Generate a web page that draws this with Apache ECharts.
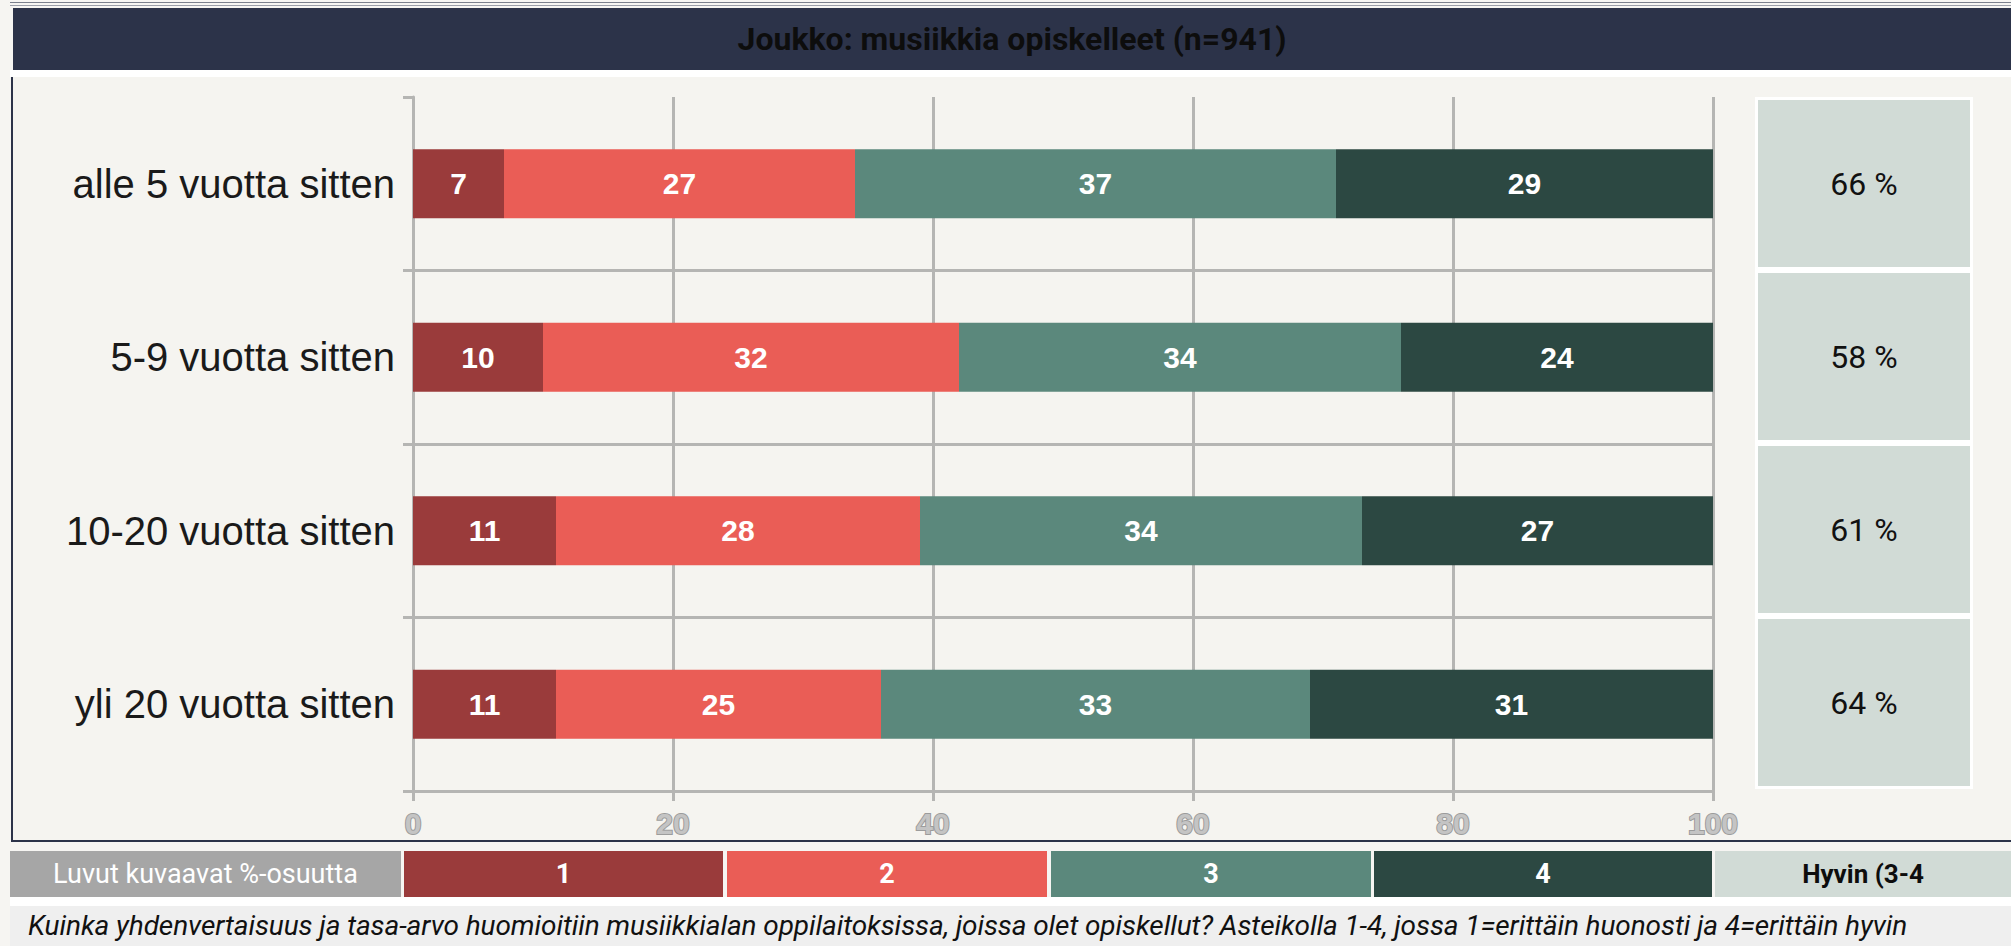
<!DOCTYPE html>
<html>
<head>
<meta charset="utf-8">
<script src="https://cdn.jsdelivr.net/npm/echarts@6/dist/echarts.min.js"></script>
<style>
  html, body { margin: 0; padding: 0; }
  body { width: 2011px; height: 946px; position: relative; overflow: hidden; background: #f6f5f2; font-family: Roboto, "Noto Sans", sans-serif; }
  .abs { position: absolute; box-sizing: border-box; }
  .cell { display: flex; align-items: center; justify-content: center; white-space: nowrap; overflow: hidden; }
  #chart { position: absolute; left: 0; top: 0; width: 2011px; height: 946px; }
</style>
</head>
<body>
<div class="abs" style="left:10px;top:2px;width:2001px;height:1px;background:#7a7f8c;"></div>
<div class="abs" style="left:10px;top:5px;width:2001px;height:1px;background:#9a9ea8;"></div>
<div class="abs cell" id="title" style="left:13px;top:8px;width:1998px;height:62px;background:#2c3349;color:#0d0d0d;font-weight:bold;font-size:32px;"></div>
<div class="abs" style="left:10px;top:70px;width:2001px;height:7px;background:#ffffff;"></div>
<div class="abs" style="left:11px;top:77px;width:2000px;height:765px;background:#f5f4f0;border-left:2px solid #2c3349;border-bottom:2px solid #2c3349;"></div>
<div id="legend"></div>
<div class="abs" style="left:10px;top:897px;width:2001px;height:9px;background:#ffffff;"></div>
<div class="abs" id="footer" style="left:10px;top:906px;width:2001px;height:40px;background:#efefef;color:#111;font-style:italic;font-size:28px;letter-spacing:-0.1px;line-height:40px;padding-left:18px;white-space:nowrap;"></div>
<div id="chart"></div>
<script>
// ---- data ----
const titleText = 'Joukko: musiikkia opiskelleet (n=941)';
const categories = ['alle 5 vuotta sitten', '5-9 vuotta sitten', '10-20 vuotta sitten', 'yli 20 vuotta sitten'];
const seriesNames = ['1', '2', '3', '4'];
const values1 = [7, 10, 11, 11];
const values2 = [27, 32, 28, 25];
const values3 = [37, 34, 34, 33];
const values4 = [29, 24, 27, 31];
const hyvin = [66, 58, 61, 64];
const xTickMin = 0, xTickMax = 100, xTickStep = 20;
const legendLead = 'Luvut kuvaavat %-osuutta';
const legendTail = 'Hyvin (3-4';
const footerText = 'Kuinka yhdenvertaisuus ja tasa-arvo huomioitiin musiikkialan oppilaitoksissa, joissa olet opiskellut? Asteikolla 1-4, jossa 1=erittäin huonosti ja 4=erittäin hyvin';

// ---- styles ----
const colors = ['#9a3b3b', '#ea5d56', '#5b887c', '#2c4842'];
const gridCol = '#b5b5b3';

document.getElementById('title').textContent = titleText;
document.getElementById('footer').textContent = footerText;

// legend row
const legendCells = [
  { text: legendLead, x: 10, w: 391, bg: '#a6a6a6', color: '#ffffff', weight: 400, size: 27 },
  { text: seriesNames[0], x: 404, w: 319, bg: colors[0], color: '#ffffff', weight: 'bold', size: 27 },
  { text: seriesNames[1], x: 727, w: 320, bg: colors[1], color: '#ffffff', weight: 'bold', size: 27 },
  { text: seriesNames[2], x: 1051, w: 320, bg: colors[2], color: '#ffffff', weight: 'bold', size: 27 },
  { text: seriesNames[3], x: 1374, w: 338, bg: colors[3], color: '#ffffff', weight: 'bold', size: 27 },
  { text: legendTail, x: 1715, w: 296, bg: '#d1dbd6', color: '#0d0d0d', weight: 'bold', size: 26 }
];
const lg = document.getElementById('legend');
legendCells.forEach(c => {
  const d = document.createElement('div');
  d.className = 'abs cell';
  d.style.cssText = `left:${c.x}px;top:851px;width:${c.w}px;height:46px;background:${c.bg};color:${c.color};font-weight:${c.weight};font-size:${c.size}px;`;
  d.textContent = c.text;
  lg.appendChild(d);
});

const totals = categories.map((c, i) => values1[i] + values2[i] + values3[i] + values4[i]);
const allValues = [values1, values2, values3, values4];

const chart = echarts.init(document.getElementById('chart'), null, { renderer: 'svg' });
const option = {
  backgroundColor: 'transparent',
  animation: false,
  grid: [
    { left: 413, width: 1300, top: 97, height: 694 },
    { left: 1755, width: 218, top: 97, height: 692 }
  ],
  xAxis: [
    {
      type: 'value', gridIndex: 0, min: xTickMin, max: xTickMax, interval: xTickStep,
      axisLine: { show: true, lineStyle: { color: gridCol, width: 3 } },
      axisTick: { show: true, length: 10, lineStyle: { color: gridCol, width: 3 } },
      splitLine: { show: true, lineStyle: { color: gridCol, width: 3 } },
      axisLabel: {
        margin: 17, fontSize: 30, fontWeight: 'bold', fontFamily: 'Liberation Sans, Arial, sans-serif',
        color: '#c4c4c4', textBorderColor: '#9c9c9c', textBorderWidth: 2
      }
    },
    { type: 'value', gridIndex: 1, min: 0, max: xTickMax, show: false }
  ],
  yAxis: [
    {
      type: 'category', gridIndex: 0, data: categories, inverse: true,
      axisLine: { show: true, lineStyle: { color: gridCol, width: 3 } },
      axisTick: { show: true, length: 10, lineStyle: { color: gridCol, width: 3 } },
      splitLine: { show: true, showMinLine: false, showMaxLine: false, lineStyle: { color: gridCol, width: 3 } },
      axisLabel: { margin: 18, fontSize: 40, color: '#1a1a1a', fontFamily: 'Liberation Sans, Arial, sans-serif' }
    },
    { type: 'category', gridIndex: 1, data: categories, inverse: true, show: false }
  ],
  series: allValues.map((vals, k) => ({
    name: seriesNames[k], type: 'bar', stack: 'total', xAxisIndex: 0, yAxisIndex: 0,
    data: vals, barWidth: 69,
    itemStyle: { color: colors[k] },
    label: {
      show: true, position: 'inside', color: '#ffffff', fontWeight: 'bold', fontSize: 30,
      fontFamily: 'Liberation Sans Narrow, Arial Narrow, Liberation Sans, sans-serif'
    }
  })).concat([{
    name: 'Hyvin', type: 'bar', xAxisIndex: 1, yAxisIndex: 1,
    data: totals, barWidth: '100%',
    itemStyle: { color: '#d1dbd6', borderColor: '#ffffff', borderWidth: 3 },
    label: {
      show: true, position: 'inside', color: '#111111', fontSize: 32, fontFamily: 'Roboto, Noto Sans, sans-serif',
      formatter: p => hyvin[p.dataIndex] + ' %'
    }
  }])
};
chart.setOption(option);
</script>
</body>
</html>
